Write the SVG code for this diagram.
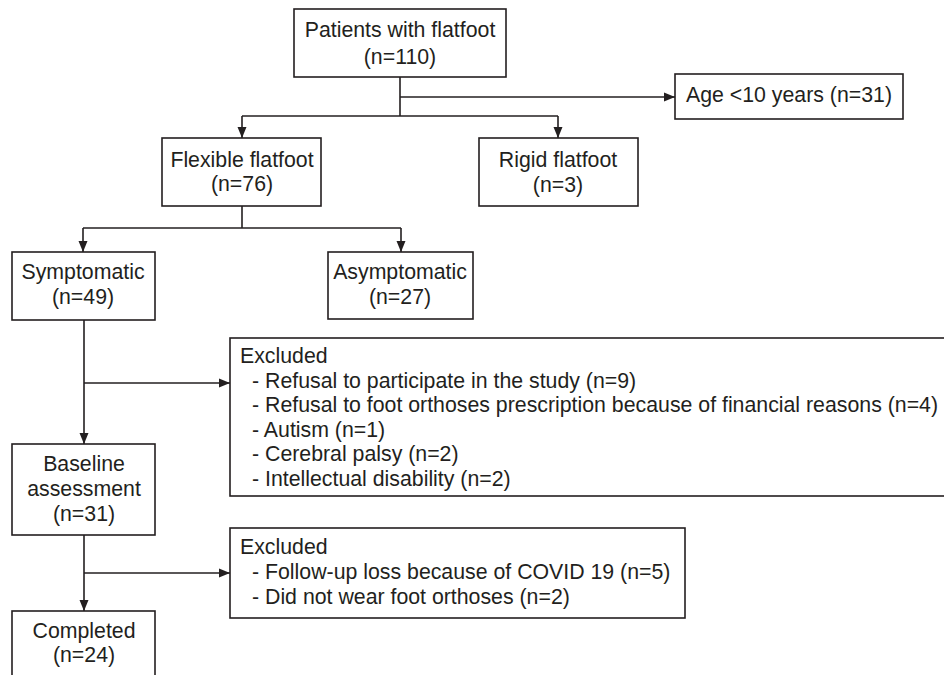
<svg xmlns="http://www.w3.org/2000/svg" width="944" height="675" viewBox="0 0 944 675">
<style>
.box{fill:#fff;stroke:#231f20;stroke-width:1.6}
.t{font-family:"Liberation Sans",Arial,sans-serif;font-size:21.3px;fill:#231f20}
.c{text-anchor:middle}
.ln{fill:none;stroke:#231f20;stroke-width:1.6}
</style>
<defs>
<marker id="ah" markerUnits="userSpaceOnUse" markerWidth="12" markerHeight="10" refX="11" refY="5" orient="auto">
<path d="M0,0.5 L11,5 L0,9.5 z" fill="#231f20"/>
</marker>
</defs>
<rect width="944" height="675" fill="#fff"/>
<g id="connectors">
<path class="ln" d="M400,77 V116"/>
<path class="ln" d="M400,97 H675" marker-end="url(#ah)"/>
<path class="ln" d="M242,116 H558"/>
<path class="ln" d="M242,116 V138" marker-end="url(#ah)"/>
<path class="ln" d="M558,116 V138" marker-end="url(#ah)"/>
<path class="ln" d="M242,206 V228"/>
<path class="ln" d="M83,228 H401"/>
<path class="ln" d="M83,228 V252" marker-end="url(#ah)"/>
<path class="ln" d="M401,228 V252" marker-end="url(#ah)"/>
<path class="ln" d="M84,320 V444" marker-end="url(#ah)"/>
<path class="ln" d="M84,383 H230" marker-end="url(#ah)"/>
<path class="ln" d="M84,535 V611" marker-end="url(#ah)"/>
<path class="ln" d="M84,573 H230" marker-end="url(#ah)"/>
</g>
<g id="patients">
<rect class="box" x="294" y="9" width="212" height="68"/>
<text class="t c" x="400" y="37">Patients with flatfoot</text>
<text class="t c" x="400" y="64">(n=110)</text>
</g>
<g id="age">
<rect class="box" x="675" y="74" width="228" height="45"/>
<text class="t c" x="789" y="102">Age &lt;10 years (n=31)</text>
</g>
<g id="flexible">
<rect class="box" x="162" y="138" width="159" height="68"/>
<text class="t c" x="242" y="167">Flexible flatfoot</text>
<text class="t c" x="242" y="191">(n=76)</text>
</g>
<g id="rigid">
<rect class="box" x="479" y="138" width="159" height="68"/>
<text class="t c" x="558" y="167">Rigid flatfoot</text>
<text class="t c" x="558" y="192">(n=3)</text>
</g>
<g id="symptomatic">
<rect class="box" x="12" y="252" width="143" height="68"/>
<text class="t c" x="83" y="279">Symptomatic</text>
<text class="t c" x="83" y="304">(n=49)</text>
</g>
<g id="asymptomatic">
<rect class="box" x="328" y="252" width="145" height="67"/>
<text class="t c" x="400" y="279">Asymptomatic</text>
<text class="t c" x="400" y="304">(n=27)</text>
</g>
<g id="excluded1">
<rect class="box" x="230" y="338" width="720" height="158"/>
<text class="t" x="240" y="363">Excluded</text>
<text class="t" x="252" y="387.5">- Refusal to participate in the study (n=9)</text>
<text class="t" x="252" y="412">- Refusal to foot orthoses prescription because of financial reasons (n=4)</text>
<text class="t" x="252" y="436.5">- Autism (n=1)</text>
<text class="t" x="252" y="461">- Cerebral palsy (n=2)</text>
<text class="t" x="252" y="485.5">- Intellectual disability (n=2)</text>
</g>
<g id="baseline">
<rect class="box" x="12" y="444" width="143" height="91"/>
<text class="t c" x="84" y="471">Baseline</text>
<text class="t c" x="84" y="496">assessment</text>
<text class="t c" x="84" y="521">(n=31)</text>
</g>
<g id="excluded2">
<rect class="box" x="230" y="528" width="455" height="90"/>
<text class="t" x="240" y="554">Excluded</text>
<text class="t" x="252" y="579">- Follow-up loss because of COVID 19 (n=5)</text>
<text class="t" x="252" y="604">- Did not wear foot orthoses (n=2)</text>
</g>
<g id="completed">
<rect class="box" x="12" y="611" width="143" height="80"/>
<text class="t c" x="84" y="638">Completed</text>
<text class="t c" x="84" y="662">(n=24)</text>
</g>
</svg>
